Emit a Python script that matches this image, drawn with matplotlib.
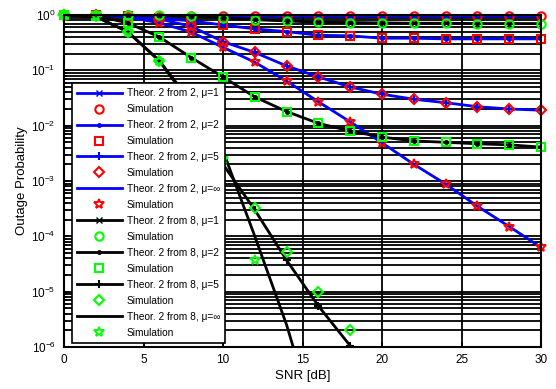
import matplotlib
matplotlib.use("Agg")
import matplotlib.pyplot as plt
import numpy as np

plt.rcParams['font.family'] = ['Liberation Sans', 'DejaVu Sans']
plt.rcParams['mathtext.fontset'] = 'custom'
plt.rcParams['mathtext.rm'] = 'Liberation Sans'
plt.rcParams['mathtext.default'] = 'regular'

# SNR points [dB]
snr = [0, 2, 4, 6, 8, 10, 12, 14, 16, 18, 20, 22, 24, 26, 28, 30]

# 2 from 2
b_mu1 = [1.0, 0.99, 0.98, 0.97, 0.965, 0.96, 0.96, 0.96, 0.96, 0.96, 0.96, 0.96, 0.96, 0.96, 0.96, 0.96]
b_mu2 = [1.0, 0.99, 0.96, 0.88, 0.78, 0.66, 0.56, 0.50, 0.43, 0.42, 0.38, 0.38, 0.37, 0.37, 0.37, 0.37]
b_mu5 = [1.0, 0.99, 0.96, 0.85, 0.62, 0.33, 0.21, 0.12, 0.076, 0.050, 0.037, 0.030, 0.026, 0.022, 0.020, 0.019]
b_inf = [1.0, 0.99, 0.92, 0.72, 0.49, 0.26, 0.14, 0.064, 0.027, 0.0117, 0.0049, 0.0020, 8.8e-4, 3.5e-4, 1.5e-4, 6.3e-5]

# 2 from 8
k_mu1 = [1.0, 0.99, 0.99, 0.98, 0.95, 0.89, 0.82, 0.78, 0.74, 0.73, 0.72, 0.71, 0.71, 0.70, 0.70, 0.70]
k_mu2 = [1.0, 0.97, 0.72, 0.40, 0.17, 0.076, 0.033, 0.018, 0.011, 0.0080, 0.0062, 0.0053, 0.0050, 0.0047, 0.0045, 0.0041]
snr_k5 = [0, 2, 4, 6, 8, 10, 12, 14, 16, 18, 20]
k_mu5 = [1.0, 0.93, 0.5, 0.148, 0.024, 2.0e-3, 3.0e-4, 3.7e-5, 5.5e-6, 1.05e-6, 2e-7]
snr_kinf = [0, 2, 4, 6, 8, 10, 12, 14, 16]
k_inf = [1.0, 0.93, 0.5, 0.148, 0.027, 3.5e-3, 1.0e-4, 2.5e-6, 3e-8]

# simulation points for 2 from 8 that differ from theory
snr_sim5 = [0, 2, 4, 6, 8, 10, 12, 14, 16, 18]
sim_k5 = [1.0, 0.95, 0.49, 0.15, 0.024, 2.2e-3, 3.2e-4, 5.2e-5, 1.0e-5, 2.0e-6]
snr_siminf = [0, 2, 4, 6, 8, 10, 12]
sim_kinf = [1.0, 0.95, 0.5, 0.15, 0.025, 2.5e-3, 3.7e-5]

fig = plt.figure(figsize=(5.56, 3.89), dpi=100)
ax = fig.add_axes([0.1151, 0.108, 0.858, 0.8535])

green = '#00ff00'
lw = 2
ms_t = 4
sim_kw = dict(linestyle='none', markerfacecolor='none', markeredgewidth=1.5, markersize=6, clip_on=False)
dia_kw = dict(sim_kw, markersize=5.5)
star_kw = dict(sim_kw, markersize=7.5, markeredgewidth=1.4)

ax.plot(snr, b_mu1, color='blue', lw=lw, marker='x', ms=ms_t, label='Theor. 2 from 2, μ=1')
ax.plot(snr, b_mu1, marker='o', markeredgecolor='red', label='Simulation', **sim_kw)
ax.plot(snr, b_mu2, color='blue', lw=lw, marker='.', ms=ms_t + 1, label='Theor. 2 from 2, μ=2')
ax.plot(snr, b_mu2, marker='s', markeredgecolor='red', label='Simulation', **sim_kw)
ax.plot(snr, b_mu5, color='blue', lw=lw, marker='+', ms=ms_t + 2, mew=1.5, label='Theor. 2 from 2, μ=5')
ax.plot(snr, b_mu5, marker='D', markeredgecolor='red', label='Simulation', **dia_kw)
ax.plot(snr, b_inf, color='blue', lw=lw, label='Theor. 2 from 2, μ=∞')
ax.plot(snr, b_inf, marker='*', markeredgecolor='red', label='Simulation', **star_kw)

ax.plot(snr, k_mu1, color='black', lw=lw, marker='x', ms=ms_t, label='Theor. 2 from 8, μ=1')
ax.plot(snr, k_mu1, marker='o', markeredgecolor=green, label='Simulation', **sim_kw)
ax.plot(snr, k_mu2, color='black', lw=lw, marker='.', ms=ms_t + 1, label='Theor. 2 from 8, μ=2')
ax.plot(snr, k_mu2, marker='s', markeredgecolor=green, label='Simulation', **sim_kw)
ax.plot(snr_k5, k_mu5, color='black', lw=lw, marker='+', ms=ms_t + 2, mew=1.5, label='Theor. 2 from 8, μ=5')
ax.plot(snr_sim5, sim_k5, marker='D', markeredgecolor=green, label='Simulation', **dia_kw)
ax.plot(snr_kinf, k_inf, color='black', lw=lw, label='Theor. 2 from 8, μ=∞')
ax.plot(snr_siminf, sim_kinf, marker='*', markeredgecolor=green, label='Simulation', **star_kw)

ax.set_yscale('log')
ax.set_xlim(0, 30)
ax.set_ylim(1e-6, 1)
ax.set_xticks([0, 5, 10, 15, 20, 25, 30])
ax.set_yticks([1e-6, 1e-5, 1e-4, 1e-3, 1e-2, 1e-1, 1])
ax.set_axisbelow(True)
ax.grid(True, which='both', axis='y', color='black', lw=1.3, ls='-')
ax.grid(True, which='major', axis='x', color='black', lw=1.3, ls='-')
ax.tick_params(which='both', direction='in', labelsize=8.5, width=1.2)
ax.tick_params(axis='x', pad=5)
ax.tick_params(axis='y', pad=6)
for s in ax.spines.values():
    s.set_linewidth(1.5)

ax.set_xlabel('SNR [dB]', fontsize=9.5, labelpad=3)
ax.set_ylabel('Outage Probability', fontsize=9.5, labelpad=2)

leg = ax.legend(loc='upper left', bbox_to_anchor=(0.017, 0.795), borderaxespad=0,
                fontsize=7.3, handlelength=4.4, handletextpad=0.5, labelspacing=0.59,
                borderpad=0.5, fancybox=False, framealpha=1, edgecolor='black')
leg.get_frame().set_linewidth(1.2)

fig.savefig('out.png', dpi=100)
